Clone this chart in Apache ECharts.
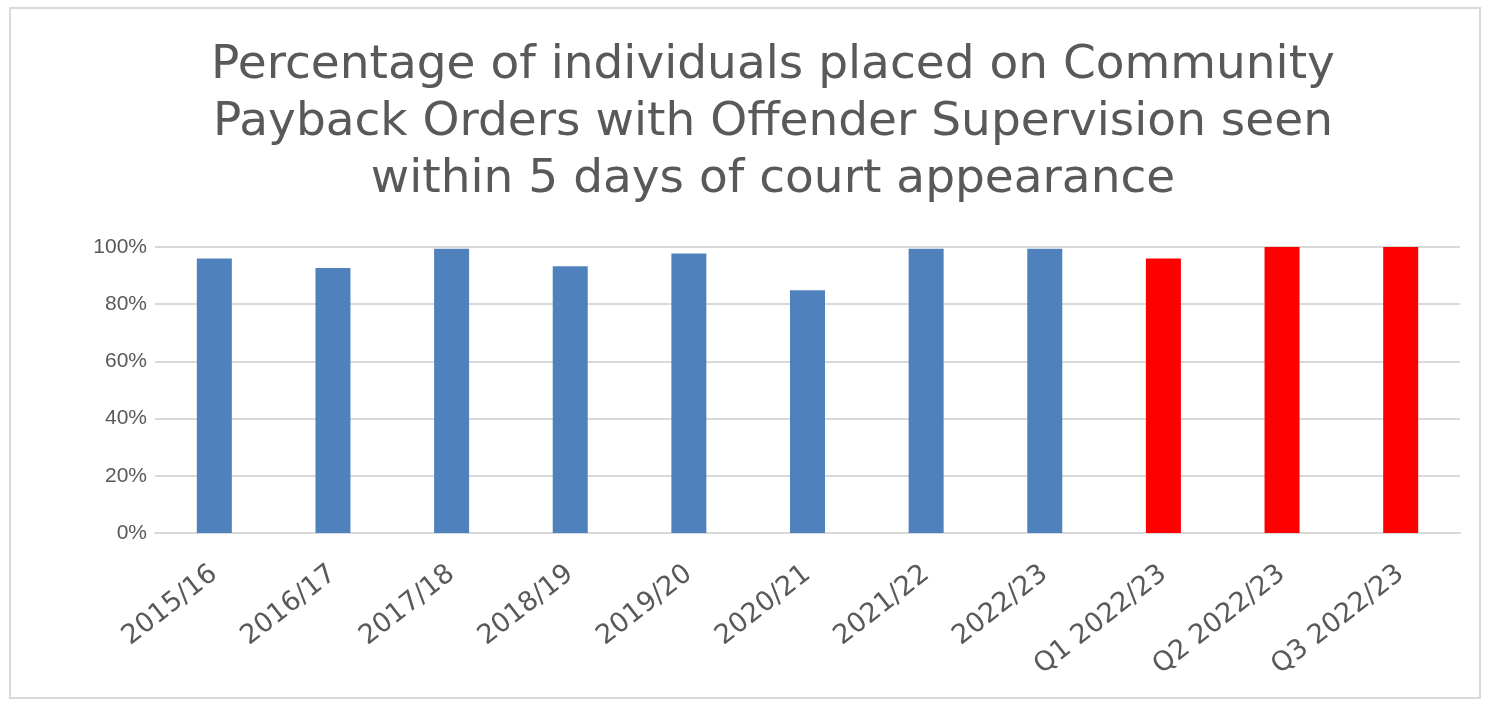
<!DOCTYPE html>
<html>
<head>
<meta charset="utf-8">
<script src="https://cdn.jsdelivr.net/npm/echarts@6/dist/echarts.min.js"></script>
<style>
  html, body { margin: 0; padding: 0; background: #fff; }
  #chart { width: 1487px; height: 703px; }
</style>
</head>
<body>
<div id="chart"></div>
<script>
// data
const categories = ['2015/16', '2016/17', '2017/18', '2018/19', '2019/20', '2020/21',
  '2021/22', '2022/23', 'Q1 2022/23', 'Q2 2022/23', 'Q3 2022/23']
const seenWithin5Days = [96, 92.7, 99.4, 93.3, 97.7, 84.9, 99.4, 99.4, 96, 100, 100]
const yTicks = [0, 20, 40, 60, 80, 100]

const textGrey = '#595959'
const fontFam = '"Liberation Sans", Arial, sans-serif'
const wideFam = '"DejaVu Sans", sans-serif'

const chart = echarts.init(document.getElementById('chart'))

const option = {
  backgroundColor: '#fff',
  animation: false,
  graphic: [{
    type: 'rect',
    shape: { x: 10, y: 8, width: 1470, height: 690 },
    style: { fill: 'none', stroke: '#D9D9D9', lineWidth: 2 }
  }],
  title: {
    text: 'Percentage of individuals placed on Community\nPayback Orders with Offender Supervision seen\nwithin 5 days of court appearance',
    left: 768,
    textAlign: 'center',
    top: 32,
    textStyle: {
      fontFamily: wideFam,
      fontWeight: 'normal',
      fontSize: 47,
      lineHeight: 57,
      color: textGrey
    }
  },
  grid: {
    left: 155,
    right: 27,
    top: 247,
    bottom: 170,
    containLabel: false
  },
  xAxis: {
    type: 'category',
    data: categories,
    axisLine: { lineStyle: { color: '#D9D9D9', width: 2 } },
    axisTick: { show: false },
    axisLabel: {
      rotate: 38,
      interval: 0,
      margin: 38,
      color: textGrey,
      fontFamily: wideFam,
      fontSize: 27
    }
  },
  yAxis: {
    type: 'value',
    min: yTicks[0],
    max: yTicks[yTicks.length - 1],
    interval: 20,
    axisLine: { show: false },
    axisTick: { show: false },
    splitLine: { lineStyle: { color: '#D9D9D9', width: 2 } },
    axisLabel: {
      formatter: '{value}%',
      margin: 8,
      color: textGrey,
      fontFamily: fontFam,
      fontSize: 21
    }
  },
  series: [{
    type: 'bar',
    data: seenWithin5Days,
    barWidth: 35,
    itemStyle: {
      // quarterly figures are shown in red
      color: (p) => p.name.startsWith('Q') ? '#FF0000' : '#4F81BD'
    }
  }]
}

chart.setOption(option)
</script>
</body>
</html>
